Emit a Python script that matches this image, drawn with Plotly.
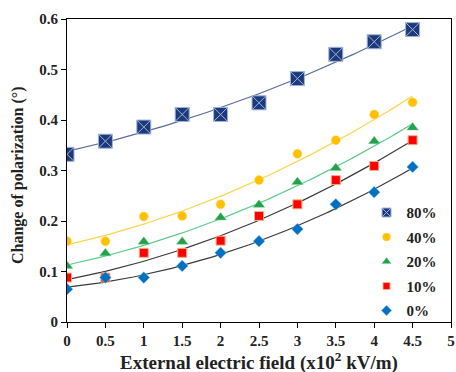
import numpy as np
import plotly.graph_objects as go

x_vals = [0, 0.5, 1, 1.5, 2, 2.5, 3, 3.5, 4, 4.5]
s80 = [0.332, 0.358, 0.386, 0.411, 0.411, 0.434, 0.482, 0.530, 0.555, 0.579]
s40 = [0.160, 0.160, 0.209, 0.210, 0.233, 0.281, 0.333, 0.360, 0.411, 0.435]
s20 = [0.111, 0.136, 0.159, 0.159, 0.207, 0.232, 0.277, 0.305, 0.358, 0.385]
s10 = [0.088, 0.088, 0.137, 0.137, 0.161, 0.210, 0.233, 0.281, 0.309, 0.360]
s0 = [0.065, 0.088, 0.088, 0.111, 0.137, 0.160, 0.184, 0.233, 0.257, 0.307]

names = ["80%", "40%", "20%", "10%", "0%"]
series = [s80, s40, s20, s10, s0]
marker_styles = [
    dict(symbol="square-x", size=14, color="#1c3a7a", line=dict(color="#9fb4dc", width=1)),
    dict(symbol="circle", size=9, color="#ffc000", line=dict(color="#ffd966", width=0.5)),
    dict(symbol="triangle-up", size=10, color="#22a04b", line=dict(color="#7fd19a", width=0.5)),
    dict(symbol="square", size=9, color="#ff0000", line=dict(color="#f4b183", width=1)),
    dict(symbol="diamond", size=9, color="#0070c0", line=dict(color="#9dc3e6", width=0.5)),
]
legend_sizes = [9, 8, 8, 7, 8]
trend_colors = ["#5a6b9c", "#ffd34d", "#5ccc8a", "#3a3a3a", "#3a3a3a"]

font_fam = "Liberation Serif, Times New Roman, serif"

fig = go.Figure()
xs = np.array(x_vals)
xf = np.linspace(0, 4.5, 100)
for name, ys, col in zip(names, series, trend_colors):
    c = np.polyfit(xs, np.array(ys), 2)
    fig.add_trace(go.Scatter(x=xf, y=np.polyval(c, xf), mode="lines",
                             line=dict(color=col, width=1.2), showlegend=False,
                             hoverinfo="skip"))
for name, ys, ms, ls in zip(names, series, marker_styles, legend_sizes):
    fig.add_trace(go.Scatter(x=x_vals, y=ys, mode="markers", name=name,
                             marker=ms, showlegend=False))
    lm = dict(ms)
    lm["size"] = ls
    fig.add_trace(go.Scatter(x=[None], y=[None], mode="markers", name=name,
                             marker=lm, legendgroup=name, showlegend=True))

fig.update_layout(
    width=456, height=372,
    margin=dict(l=67, r=5, t=19, b=50, autoexpand=False),
    paper_bgcolor="white", plot_bgcolor="white",
    font=dict(family=font_fam, size=15, color="#222222", weight="bold"),
    showlegend=True,
    legend=dict(x=0.78, y=0.415, xanchor="left", yanchor="top",
                bgcolor="rgba(0,0,0,0)", tracegroupgap=2,
                font=dict(family=font_fam, size=15, color="#222222", weight="bold"),
                itemwidth=30),
    annotations=[
        dict(text="External electric field (x10<sup>2</sup> kV/m)", xref="paper", yref="paper",
             x=0.5, y=(322 - 361) / 303, xanchor="center", yanchor="middle",
             showarrow=False, font=dict(size=19)),
        dict(text="Change of polarization (°)", xref="paper", yref="paper",
             x=(18 - 67) / 384, y=(322 - 175) / 303, xanchor="center", yanchor="middle",
             textangle=-90, showarrow=False, font=dict(size=16)),
    ],
)
fig.update_xaxes(range=[0, 5], dtick=0.5, tick0=0, showgrid=False, zeroline=False,
                 showline=True, linecolor="black", linewidth=1, mirror=True,
                 ticks="outside", ticklen=5, tickcolor="black",
                 tickfont=dict(size=15))
fig.update_yaxes(range=[0, 0.6], dtick=0.1, tick0=0, showgrid=False, zeroline=False,
                 showline=True, linecolor="black", linewidth=1, mirror=True,
                 ticks="outside", ticklen=5, tickcolor="black",
                 tickfont=dict(size=15))

fig.write_html("out.html")
